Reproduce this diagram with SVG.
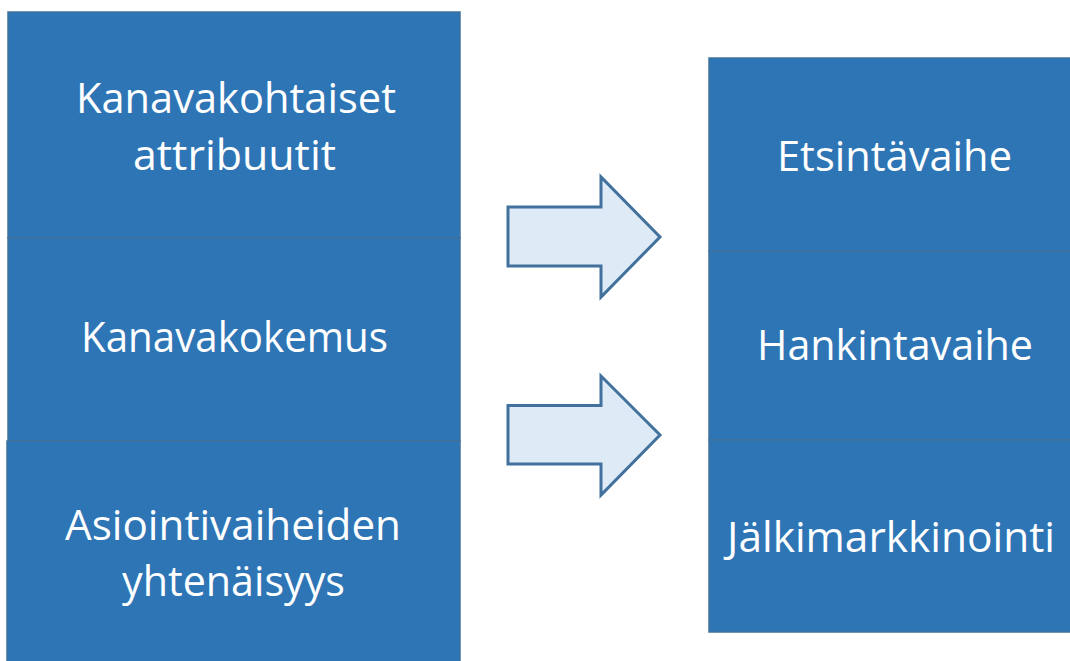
<svg xmlns="http://www.w3.org/2000/svg" width="1070" height="661" viewBox="0 0 1070 661">
<style>
.box{fill:#2e75b6;stroke:#41719c;stroke-width:1.5}
.arrow{fill:#deebf7;stroke:#41719c;stroke-width:3;stroke-linejoin:miter}
.lbl{font-family:"Open Sans","Liberation Sans",sans-serif;font-size:42px;fill:#ffffff;text-anchor:middle}
</style>
<rect width="1070" height="661" fill="#ffffff"/>
<g id="node-kanavakohtaiset">
<rect class="box" x="8" y="12" width="452" height="226"/>
<text class="lbl" x="236" y="113" textLength="320" lengthAdjust="spacingAndGlyphs">Kanavakohtaiset</text>
<text class="lbl" x="234.5" y="170" textLength="203" lengthAdjust="spacingAndGlyphs">attribuutit</text>
</g>
<g id="node-kanavakokemus">
<rect class="box" x="8" y="238" width="452" height="203"/>
<text class="lbl" x="234.5" y="352" textLength="307" lengthAdjust="spacingAndGlyphs">Kanavakokemus</text>
</g>
<g id="node-asiointivaiheiden">
<rect class="box" x="7" y="441" width="453" height="230"/>
<text class="lbl" x="233" y="540" textLength="336" lengthAdjust="spacingAndGlyphs">Asiointivaiheiden</text>
<text class="lbl" x="233.5" y="596" textLength="223" lengthAdjust="spacingAndGlyphs">yhtenäisyys</text>
</g>
<g id="node-etsintavaihe">
<rect class="box" x="709" y="58" width="370" height="193"/>
<text class="lbl" x="894.5" y="171" textLength="235" lengthAdjust="spacingAndGlyphs">Etsintävaihe</text>
</g>
<g id="node-hankintavaihe">
<rect class="box" x="709" y="251" width="370" height="189"/>
<text class="lbl" x="895" y="360" textLength="276" lengthAdjust="spacingAndGlyphs">Hankintavaihe</text>
</g>
<g id="node-jalkimarkkinointi">
<rect class="box" x="709" y="440" width="370" height="192"/>
<text class="lbl" x="891" y="552" textLength="328" lengthAdjust="spacingAndGlyphs">Jälkimarkkinointi</text>
</g>
<g id="connectors">
<polygon class="arrow" points="508,207 601,207 601,177 660,237 601,297 601,266 508,266"/>
<polygon class="arrow" points="508,405.5 601,405.5 601,376 660,435 601,495 601,464 508,464"/>
</g>
</svg>
